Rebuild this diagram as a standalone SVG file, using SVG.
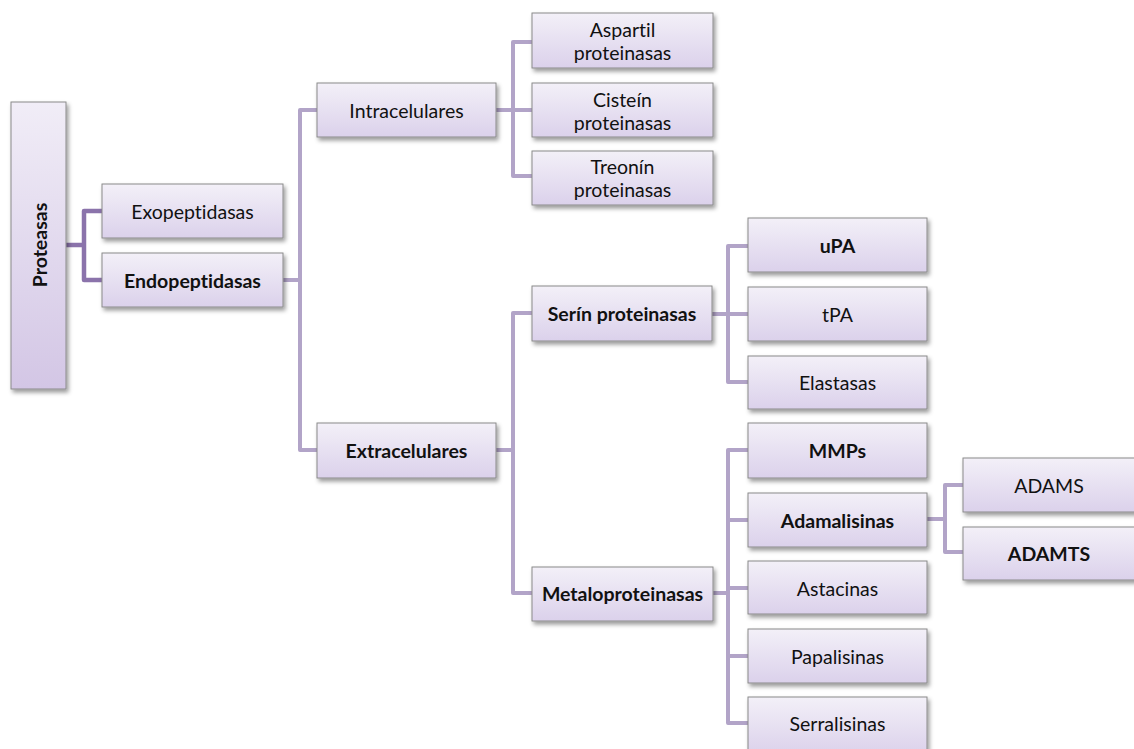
<svg xmlns="http://www.w3.org/2000/svg" width="1134" height="749" viewBox="0 0 1134 749">
<defs>
<linearGradient id="g" x1="0" y1="0" x2="0" y2="1">
<stop offset="0" stop-color="#f3f0f8"/>
<stop offset="1" stop-color="#dbd1eb"/>
</linearGradient>
<linearGradient id="gv" x1="0" y1="0" x2="0" y2="1">
<stop offset="0" stop-color="#f1edf7"/>
<stop offset="1" stop-color="#d3c6e5"/>
</linearGradient>
<filter id="sh" x="-10%" y="-20%" width="130%" height="150%">
<feDropShadow dx="2" dy="3" stdDeviation="2" flood-color="#000" flood-opacity="0.4"/>
</filter>
</defs>
<style>
.b{fill:url(#g);stroke:#8a8a8a;stroke-width:1;filter:url(#sh)}
.t{font-family:Lato,"Liberation Sans",sans-serif;font-size:19.5px;fill:#111;text-anchor:middle;dominant-baseline:central;font-variant-ligatures:none;font-feature-settings:"liga" 0}
.bd{font-weight:bold}
.c{fill:none;stroke:#b2a4c8;stroke-width:4;stroke-linejoin:round}
.cd{fill:none;stroke:#8b73ab;stroke-width:4.5;stroke-linejoin:round}
</style>
<rect width="1134" height="749" fill="#fff"/>
<g id="connectors">
<path class="cd" d="M66,245 H84 M102,211 H84 V280 H102"/>
<path class="c" d="M283,280 H300 M317,110 H300 V450 H317"/>
<path class="c" d="M496,110 H532 M532,42 H513 V176 H532"/>
<path class="c" d="M496,450 H513 M532,313 H513 V593 H532"/>
<path class="c" d="M712,314 H748 M748,246 H728 V382 H748"/>
<path class="c" d="M713,593 H728 M748,450 H728 V723 H748 M728,520 H748 M728,588 H748 M728,656 H748"/>
<path class="c" d="M927,519 H945 M963,485 H945 V552 H963"/>
</g>
<g id="proteasas"><rect x="11" y="102" width="55" height="287" style="fill:url(#gv);stroke:#8a8a8a;stroke-width:1;filter:url(#sh)"/><text class="t bd" transform="translate(39,245) rotate(-90)">Proteasas</text></g>
<g id="exopeptidasas"><rect class="b" x="102" y="184" width="181" height="54"/><text class="t" x="192.5" y="211">Exopeptidasas</text></g>
<g id="endopeptidasas"><rect class="b" x="102" y="253" width="181" height="54"/><text class="t bd" x="192.5" y="280">Endopeptidasas</text></g>
<g id="intracelulares"><rect class="b" x="317" y="83" width="179" height="54"/><text class="t" x="406.5" y="110">Intracelulares</text></g>
<g id="extracelulares"><rect class="b" x="317" y="423" width="179" height="55"/><text class="t bd" x="406.5" y="450">Extracelulares</text></g>
<g id="aspartil"><rect class="b" x="532" y="13" width="181" height="55"/><text class="t" x="622.5" y="29">Aspartil</text><text class="t" x="622.5" y="52">proteinasas</text></g>
<g id="cistein"><rect class="b" x="532" y="83" width="181" height="54"/><text class="t" x="622.5" y="99">Cisteín</text><text class="t" x="622.5" y="122">proteinasas</text></g>
<g id="treonin"><rect class="b" x="532" y="151" width="181" height="54"/><text class="t" x="622.5" y="166">Treonín</text><text class="t" x="622.5" y="189">proteinasas</text></g>
<g id="serin"><rect class="b" x="532" y="286" width="180" height="55"/><text class="t bd" x="622" y="313">Serín proteinasas</text></g>
<g id="metalo"><rect class="b" x="532" y="567" width="181" height="54"/><text class="t bd" x="622.5" y="593">Metaloproteinasas</text></g>
<g id="upa"><rect class="b" x="748" y="218" width="179" height="54"/><text class="t bd" x="837.5" y="245">uPA</text></g>
<g id="tpa"><rect class="b" x="748" y="287" width="179" height="54"/><text class="t" x="837.5" y="314">tPA</text></g>
<g id="elastasas"><rect class="b" x="748" y="356" width="179" height="53"/><text class="t" x="837.5" y="382">Elastasas</text></g>
<g id="mmps"><rect class="b" x="748" y="423" width="179" height="55"/><text class="t bd" x="837.5" y="450">MMPs</text></g>
<g id="adamalisinas"><rect class="b" x="748" y="493" width="179" height="54"/><text class="t bd" x="837.5" y="520">Adamalisinas</text></g>
<g id="astacinas"><rect class="b" x="748" y="561" width="179" height="53"/><text class="t" x="837.5" y="588">Astacinas</text></g>
<g id="papalisinas"><rect class="b" x="748" y="629" width="179" height="54"/><text class="t" x="837.5" y="656">Papalisinas</text></g>
<g id="serralisinas"><rect class="b" x="748" y="697" width="179" height="58"/><text class="t" x="837.5" y="723">Serralisinas</text></g>
<g id="adams"><rect class="b" x="963" y="458" width="180" height="54"/><text class="t" x="1049" y="485">ADAMS</text></g>
<g id="adamts"><rect class="b" x="963" y="527" width="180" height="53"/><text class="t bd" x="1049" y="553">ADAMTS</text></g>
</svg>
